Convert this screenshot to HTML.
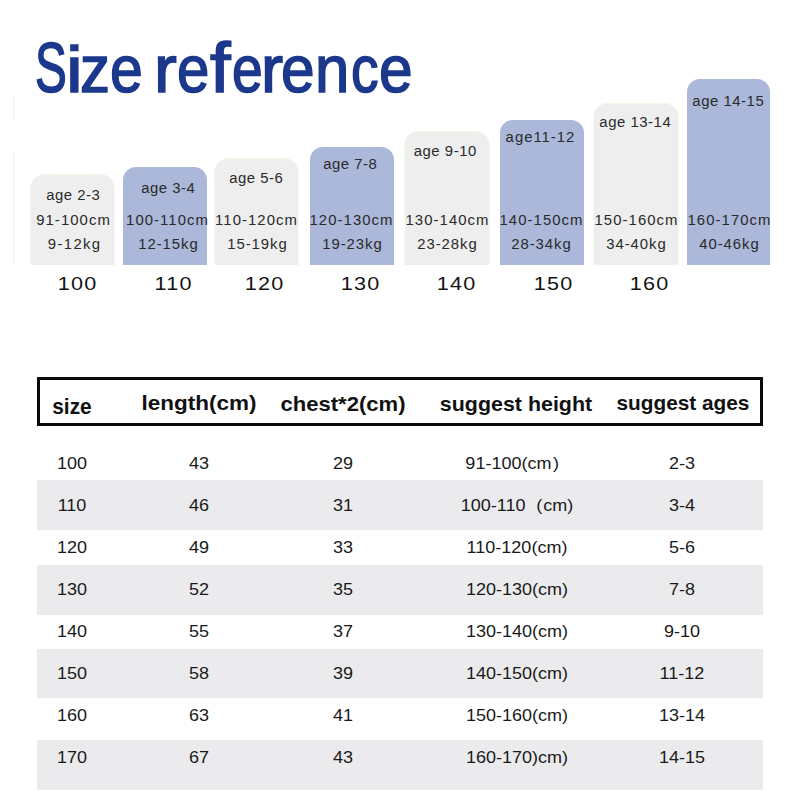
<!DOCTYPE html>
<html><head><meta charset="utf-8"><style>
html,body{margin:0;padding:0;background:#fff;}
body{width:800px;height:800px;position:relative;overflow:hidden;font-family:"Liberation Sans",sans-serif;}
.t{position:absolute;white-space:nowrap;line-height:1;}
.bar{position:absolute;border-radius:13px 13px 0 0;}
</style></head><body>
<div class="t" style="left:34.91px;top:35.00px;font-size:68.5px;color:#1c388c;-webkit-text-stroke:1.6px #1c388c;transform:scale(0.6951,1.0367);transform-origin:0 58px">S</div>
<div class="t" style="left:65.60px;top:35.00px;font-size:68.5px;color:#1c388c;-webkit-text-stroke:1.6px #1c388c;transform:scale(1.1000,0.9567);transform-origin:0 58px">i</div>
<div class="t" style="left:80.00px;top:35.00px;font-size:68.5px;color:#1c388c;-webkit-text-stroke:1.6px #1c388c;transform:scale(0.8750,0.9658);transform-origin:0 58px">z</div>
<div class="t" style="left:110.03px;top:35.00px;font-size:68.5px;color:#1c388c;-webkit-text-stroke:1.6px #1c388c;transform:scale(0.8603,0.9658);transform-origin:0 58px">e</div>
<div class="t" style="left:153.90px;top:35.00px;font-size:68.5px;color:#1c388c;-webkit-text-stroke:1.6px #1c388c;transform:scale(1.0000,0.9658);transform-origin:0 58px">r</div>
<div class="t" style="left:177.20px;top:35.00px;font-size:68.5px;color:#1c388c;-webkit-text-stroke:1.6px #1c388c;transform:scale(0.8485,0.9658);transform-origin:0 58px">e</div>
<div class="t" style="left:210.40px;top:35.00px;font-size:68.5px;color:#1c388c;-webkit-text-stroke:1.6px #1c388c;transform:scale(1.0800,1.0173);transform-origin:0 58px">f</div>
<div class="t" style="left:231.99px;top:35.00px;font-size:68.5px;color:#1c388c;-webkit-text-stroke:1.6px #1c388c;transform:scale(0.8059,0.9658);transform-origin:0 58px">e</div>
<div class="t" style="left:260.73px;top:35.00px;font-size:68.5px;color:#1c388c;-webkit-text-stroke:1.6px #1c388c;transform:scale(0.9667,0.9658);transform-origin:0 58px">r</div>
<div class="t" style="left:281.24px;top:35.00px;font-size:68.5px;color:#1c388c;-webkit-text-stroke:1.6px #1c388c;transform:scale(0.8824,0.9658);transform-origin:0 58px">e</div>
<div class="t" style="left:315.40px;top:35.00px;font-size:68.5px;color:#1c388c;-webkit-text-stroke:1.6px #1c388c;transform:scale(0.9000,0.9658);transform-origin:0 58px">n</div>
<div class="t" style="left:351.39px;top:35.00px;font-size:68.5px;color:#1c388c;-webkit-text-stroke:1.6px #1c388c;transform:scale(0.8065,0.9658);transform-origin:0 58px">c</div>
<div class="t" style="left:379.24px;top:35.00px;font-size:68.5px;color:#1c388c;-webkit-text-stroke:1.6px #1c388c;transform:scale(0.8824,0.9658);transform-origin:0 58px">e</div>
<div style="position:absolute;left:13px;top:96px;width:1px;height:24px;background:#f3f3f3"></div>
<div style="position:absolute;left:13px;top:152px;width:1px;height:114px;background:#f3f3f3"></div>
<div class="bar" style="left:31px;top:175px;width:83px;height:90px;background:#eeeeee;box-shadow:0 -1px 0 0 #f6f6e6,-1px 0 0 0 #f8f8ee,1px 0 0 0 #f8f8ee"></div>
<div class="t" style="left:73.45px;top:189.12px;font-size:13.8px;color:#2a2a2a;font-weight:normal;letter-spacing:0.5px;transform:translateX(-50%) scaleX(1.079);transform-origin:center 0;padding-left:0.5px;">age 2-3</div>
<div class="t" style="left:73.15px;top:214.02px;font-size:13.8px;color:#2a2a2a;font-weight:normal;letter-spacing:0.98px;transform:translateX(-50%) scaleX(1.079);transform-origin:center 0;padding-left:0.98px;">91-100cm</div>
<div class="t" style="left:73.60px;top:238.42px;font-size:13.8px;color:#2a2a2a;font-weight:normal;letter-spacing:1.25px;transform:translateX(-50%) scaleX(1.079);transform-origin:center 0;padding-left:1.25px;">9-12kg</div>
<div class="bar" style="left:123px;top:167px;width:84px;height:98px;background:#abb8da"></div>
<div class="t" style="left:167.80px;top:181.52px;font-size:13.8px;color:#2a2a2a;font-weight:normal;letter-spacing:0.5px;transform:translateX(-50%) scaleX(1.079);transform-origin:center 0;padding-left:0.5px;">age 3-4</div>
<div class="t" style="left:167.35px;top:214.02px;font-size:13.8px;color:#2a2a2a;font-weight:normal;letter-spacing:0.98px;transform:translateX(-50%) scaleX(1.079);transform-origin:center 0;padding-left:0.98px;">100-110cm</div>
<div class="t" style="left:168.05px;top:238.42px;font-size:13.8px;color:#2a2a2a;font-weight:normal;letter-spacing:0.86px;transform:translateX(-50%) scaleX(1.079);transform-origin:center 0;padding-left:0.86px;">12-15kg</div>
<div class="bar" style="left:215px;top:159px;width:83px;height:106px;background:#eeeeee;box-shadow:0 -1px 0 0 #f6f6e6,-1px 0 0 0 #f8f8ee,1px 0 0 0 #f8f8ee"></div>
<div class="t" style="left:256.10px;top:171.92px;font-size:13.8px;color:#2a2a2a;font-weight:normal;letter-spacing:0.5px;transform:translateX(-50%) scaleX(1.079);transform-origin:center 0;padding-left:0.5px;">age 5-6</div>
<div class="t" style="left:255.80px;top:214.02px;font-size:13.8px;color:#2a2a2a;font-weight:normal;letter-spacing:0.98px;transform:translateX(-50%) scaleX(1.079);transform-origin:center 0;padding-left:0.98px;">110-120cm</div>
<div class="t" style="left:256.50px;top:238.42px;font-size:13.8px;color:#2a2a2a;font-weight:normal;letter-spacing:0.86px;transform:translateX(-50%) scaleX(1.079);transform-origin:center 0;padding-left:0.86px;">15-19kg</div>
<div class="bar" style="left:310px;top:147px;width:84px;height:118px;background:#abb8da"></div>
<div class="t" style="left:349.80px;top:158.02px;font-size:13.8px;color:#2a2a2a;font-weight:normal;letter-spacing:0.5px;transform:translateX(-50%) scaleX(1.079);transform-origin:center 0;padding-left:0.5px;">age 7-8</div>
<div class="t" style="left:351.45px;top:214.02px;font-size:13.8px;color:#2a2a2a;font-weight:normal;letter-spacing:0.98px;transform:translateX(-50%) scaleX(1.079);transform-origin:center 0;padding-left:0.98px;">120-130cm</div>
<div class="t" style="left:352.05px;top:238.42px;font-size:13.8px;color:#2a2a2a;font-weight:normal;letter-spacing:0.86px;transform:translateX(-50%) scaleX(1.079);transform-origin:center 0;padding-left:0.86px;">19-23kg</div>
<div class="bar" style="left:405px;top:132px;width:84px;height:133px;background:#eeeeee;box-shadow:0 -1px 0 0 #f6f6e6,-1px 0 0 0 #f8f8ee,1px 0 0 0 #f8f8ee"></div>
<div class="t" style="left:444.75px;top:145.12px;font-size:13.8px;color:#2a2a2a;font-weight:normal;letter-spacing:0.5px;transform:translateX(-50%) scaleX(1.079);transform-origin:center 0;padding-left:0.5px;">age 9-10</div>
<div class="t" style="left:447.00px;top:214.02px;font-size:13.8px;color:#2a2a2a;font-weight:normal;letter-spacing:0.98px;transform:translateX(-50%) scaleX(1.079);transform-origin:center 0;padding-left:0.98px;">130-140cm</div>
<div class="t" style="left:447.45px;top:238.42px;font-size:13.8px;color:#2a2a2a;font-weight:normal;letter-spacing:0.86px;transform:translateX(-50%) scaleX(1.079);transform-origin:center 0;padding-left:0.86px;">23-28kg</div>
<div class="bar" style="left:500px;top:120px;width:84px;height:145px;background:#abb8da"></div>
<div class="t" style="left:540.15px;top:131.22px;font-size:13.8px;color:#2a2a2a;font-weight:normal;letter-spacing:0.92px;transform:translateX(-50%) scaleX(1.079);transform-origin:center 0;padding-left:0.92px;">age11-12</div>
<div class="t" style="left:540.50px;top:214.02px;font-size:13.8px;color:#2a2a2a;font-weight:normal;letter-spacing:0.98px;transform:translateX(-50%) scaleX(1.079);transform-origin:center 0;padding-left:0.98px;">140-150cm</div>
<div class="t" style="left:540.50px;top:238.42px;font-size:13.8px;color:#2a2a2a;font-weight:normal;letter-spacing:0.86px;transform:translateX(-50%) scaleX(1.079);transform-origin:center 0;padding-left:0.86px;">28-34kg</div>
<div class="bar" style="left:594px;top:104px;width:84px;height:161px;background:#eeeeee;box-shadow:0 -1px 0 0 #f6f6e6,-1px 0 0 0 #f8f8ee,1px 0 0 0 #f8f8ee"></div>
<div class="t" style="left:634.70px;top:115.52px;font-size:13.8px;color:#2a2a2a;font-weight:normal;letter-spacing:0.5px;transform:translateX(-50%) scaleX(1.079);transform-origin:center 0;padding-left:0.5px;">age 13-14</div>
<div class="t" style="left:635.80px;top:214.02px;font-size:13.8px;color:#2a2a2a;font-weight:normal;letter-spacing:0.98px;transform:translateX(-50%) scaleX(1.079);transform-origin:center 0;padding-left:0.98px;">150-160cm</div>
<div class="t" style="left:636.05px;top:238.42px;font-size:13.8px;color:#2a2a2a;font-weight:normal;letter-spacing:0.86px;transform:translateX(-50%) scaleX(1.079);transform-origin:center 0;padding-left:0.86px;">34-40kg</div>
<div class="bar" style="left:687px;top:79px;width:83px;height:186px;background:#abb8da"></div>
<div class="t" style="left:727.80px;top:95.47px;font-size:13.8px;color:#2a2a2a;font-weight:normal;letter-spacing:0.5px;transform:translateX(-50%) scaleX(1.079);transform-origin:center 0;padding-left:0.5px;">age 14-15</div>
<div class="t" style="left:728.75px;top:214.02px;font-size:13.8px;color:#2a2a2a;font-weight:normal;letter-spacing:0.98px;transform:translateX(-50%) scaleX(1.079);transform-origin:center 0;padding-left:0.98px;">160-170cm</div>
<div class="t" style="left:728.90px;top:238.42px;font-size:13.8px;color:#2a2a2a;font-weight:normal;letter-spacing:0.86px;transform:translateX(-50%) scaleX(1.079);transform-origin:center 0;padding-left:0.86px;">40-46kg</div>
<div class="t" style="left:76.50px;top:274.76px;font-size:18px;color:#141414;font-weight:normal;letter-spacing:1.1px;transform:translateX(-50%) scaleX(1.2);transform-origin:center 0;padding-left:1.1px;">100</div>
<div class="t" style="left:172.50px;top:274.76px;font-size:18px;color:#141414;font-weight:normal;letter-spacing:1.1px;transform:translateX(-50%) scaleX(1.2);transform-origin:center 0;padding-left:1.1px;">110</div>
<div class="t" style="left:264.00px;top:274.76px;font-size:18px;color:#141414;font-weight:normal;letter-spacing:1.1px;transform:translateX(-50%) scaleX(1.2);transform-origin:center 0;padding-left:1.1px;">120</div>
<div class="t" style="left:360.00px;top:274.76px;font-size:18px;color:#141414;font-weight:normal;letter-spacing:1.1px;transform:translateX(-50%) scaleX(1.2);transform-origin:center 0;padding-left:1.1px;">130</div>
<div class="t" style="left:456.25px;top:274.76px;font-size:18px;color:#141414;font-weight:normal;letter-spacing:1.1px;transform:translateX(-50%) scaleX(1.2);transform-origin:center 0;padding-left:1.1px;">140</div>
<div class="t" style="left:552.60px;top:274.76px;font-size:18px;color:#141414;font-weight:normal;letter-spacing:1.1px;transform:translateX(-50%) scaleX(1.2);transform-origin:center 0;padding-left:1.1px;">150</div>
<div class="t" style="left:648.75px;top:274.76px;font-size:18px;color:#141414;font-weight:normal;letter-spacing:1.1px;transform:translateX(-50%) scaleX(1.2);transform-origin:center 0;padding-left:1.1px;">160</div>
<div style="position:absolute;left:37px;top:377px;width:720px;height:43px;border:3px solid #0a0a0a"></div>
<div class="t" style="left:71.60px;top:395.58px;font-size:22px;color:#111;font-weight:bold;letter-spacing:0px;transform:translateX(-50%) scaleX(0.95);transform-origin:center 0;padding-left:0px;">size</div>
<div class="t" style="left:198.70px;top:392.22px;font-size:21px;color:#111;font-weight:bold;letter-spacing:0px;transform:translateX(-50%) scaleX(1.07);transform-origin:center 0;padding-left:0px;">length(cm)</div>
<div class="t" style="left:342.60px;top:393.22px;font-size:21px;color:#111;font-weight:bold;letter-spacing:0px;transform:translateX(-50%) scaleX(1.05);transform-origin:center 0;padding-left:0px;">chest*2(cm)</div>
<div class="t" style="left:516.00px;top:392.72px;font-size:21px;color:#111;font-weight:bold;letter-spacing:0px;transform:translateX(-50%) scaleX(1.02);transform-origin:center 0;padding-left:0px;">suggest height</div>
<div class="t" style="left:682.50px;top:392.22px;font-size:21px;color:#111;font-weight:bold;letter-spacing:0px;transform:translateX(-50%) scaleX(0.99);transform-origin:center 0;padding-left:0px;">suggest ages</div>
<div style="position:absolute;left:37px;top:480px;width:726px;height:49.5px;background:#ebebed"></div>
<div style="position:absolute;left:37px;top:564.5px;width:726px;height:50.0px;background:#ebebed"></div>
<div style="position:absolute;left:37px;top:648.5px;width:726px;height:49.799999999999955px;background:#ebebed"></div>
<div style="position:absolute;left:37px;top:740px;width:726px;height:50px;background:#ebebed"></div>
<div class="t" style="left:71.75px;top:455.11px;font-size:17px;color:#1a1a1a;font-weight:normal;letter-spacing:0px;transform:translateX(-50%) scaleX(1.06);transform-origin:center 0;padding-left:0px;">100</div>
<div class="t" style="left:198.75px;top:455.11px;font-size:17px;color:#1a1a1a;font-weight:normal;letter-spacing:0px;transform:translateX(-50%) scaleX(1.06);transform-origin:center 0;padding-left:0px;">43</div>
<div class="t" style="left:342.75px;top:455.11px;font-size:17px;color:#1a1a1a;font-weight:normal;letter-spacing:0px;transform:translateX(-50%) scaleX(1.06);transform-origin:center 0;padding-left:0px;">29</div>
<div class="t" style="left:517.00px;top:455.11px;font-size:17px;color:#1a1a1a;font-weight:normal;letter-spacing:0px;transform:translateX(-50%) scaleX(1.06);transform-origin:center 0;padding-left:0px;">91-100(cm<span style="margin-left:1.5px;margin-right:9px">)</span></div>
<div class="t" style="left:681.60px;top:455.11px;font-size:17px;color:#1a1a1a;font-weight:normal;letter-spacing:0px;transform:translateX(-50%) scaleX(1.06);transform-origin:center 0;padding-left:0px;">2-3</div>
<div class="t" style="left:71.75px;top:497.11px;font-size:17px;color:#1a1a1a;font-weight:normal;letter-spacing:0px;transform:translateX(-50%) scaleX(1.06);transform-origin:center 0;padding-left:0px;">110</div>
<div class="t" style="left:198.75px;top:497.11px;font-size:17px;color:#1a1a1a;font-weight:normal;letter-spacing:0px;transform:translateX(-50%) scaleX(1.06);transform-origin:center 0;padding-left:0px;">46</div>
<div class="t" style="left:342.75px;top:497.11px;font-size:17px;color:#1a1a1a;font-weight:normal;letter-spacing:0px;transform:translateX(-50%) scaleX(1.06);transform-origin:center 0;padding-left:0px;">31</div>
<div class="t" style="left:517.00px;top:497.11px;font-size:17px;color:#1a1a1a;font-weight:normal;letter-spacing:0px;transform:translateX(-50%) scaleX(1.06);transform-origin:center 0;padding-left:0px;">100-110<span style="margin-left:10px;margin-right:1px">(</span>cm)</div>
<div class="t" style="left:681.60px;top:497.11px;font-size:17px;color:#1a1a1a;font-weight:normal;letter-spacing:0px;transform:translateX(-50%) scaleX(1.06);transform-origin:center 0;padding-left:0px;">3-4</div>
<div class="t" style="left:71.75px;top:539.11px;font-size:17px;color:#1a1a1a;font-weight:normal;letter-spacing:0px;transform:translateX(-50%) scaleX(1.06);transform-origin:center 0;padding-left:0px;">120</div>
<div class="t" style="left:198.75px;top:539.11px;font-size:17px;color:#1a1a1a;font-weight:normal;letter-spacing:0px;transform:translateX(-50%) scaleX(1.06);transform-origin:center 0;padding-left:0px;">49</div>
<div class="t" style="left:342.75px;top:539.11px;font-size:17px;color:#1a1a1a;font-weight:normal;letter-spacing:0px;transform:translateX(-50%) scaleX(1.06);transform-origin:center 0;padding-left:0px;">33</div>
<div class="t" style="left:517.00px;top:539.11px;font-size:17px;color:#1a1a1a;font-weight:normal;letter-spacing:0px;transform:translateX(-50%) scaleX(1.06);transform-origin:center 0;padding-left:0px;">110-120(cm)</div>
<div class="t" style="left:681.60px;top:539.11px;font-size:17px;color:#1a1a1a;font-weight:normal;letter-spacing:0px;transform:translateX(-50%) scaleX(1.06);transform-origin:center 0;padding-left:0px;">5-6</div>
<div class="t" style="left:71.75px;top:581.11px;font-size:17px;color:#1a1a1a;font-weight:normal;letter-spacing:0px;transform:translateX(-50%) scaleX(1.06);transform-origin:center 0;padding-left:0px;">130</div>
<div class="t" style="left:198.75px;top:581.11px;font-size:17px;color:#1a1a1a;font-weight:normal;letter-spacing:0px;transform:translateX(-50%) scaleX(1.06);transform-origin:center 0;padding-left:0px;">52</div>
<div class="t" style="left:342.75px;top:581.11px;font-size:17px;color:#1a1a1a;font-weight:normal;letter-spacing:0px;transform:translateX(-50%) scaleX(1.06);transform-origin:center 0;padding-left:0px;">35</div>
<div class="t" style="left:517.00px;top:581.11px;font-size:17px;color:#1a1a1a;font-weight:normal;letter-spacing:0px;transform:translateX(-50%) scaleX(1.06);transform-origin:center 0;padding-left:0px;">120-130(cm)</div>
<div class="t" style="left:681.60px;top:581.11px;font-size:17px;color:#1a1a1a;font-weight:normal;letter-spacing:0px;transform:translateX(-50%) scaleX(1.06);transform-origin:center 0;padding-left:0px;">7-8</div>
<div class="t" style="left:71.75px;top:623.11px;font-size:17px;color:#1a1a1a;font-weight:normal;letter-spacing:0px;transform:translateX(-50%) scaleX(1.06);transform-origin:center 0;padding-left:0px;">140</div>
<div class="t" style="left:198.75px;top:623.11px;font-size:17px;color:#1a1a1a;font-weight:normal;letter-spacing:0px;transform:translateX(-50%) scaleX(1.06);transform-origin:center 0;padding-left:0px;">55</div>
<div class="t" style="left:342.75px;top:623.11px;font-size:17px;color:#1a1a1a;font-weight:normal;letter-spacing:0px;transform:translateX(-50%) scaleX(1.06);transform-origin:center 0;padding-left:0px;">37</div>
<div class="t" style="left:517.00px;top:623.11px;font-size:17px;color:#1a1a1a;font-weight:normal;letter-spacing:0px;transform:translateX(-50%) scaleX(1.06);transform-origin:center 0;padding-left:0px;">130-140(cm)</div>
<div class="t" style="left:681.60px;top:623.11px;font-size:17px;color:#1a1a1a;font-weight:normal;letter-spacing:0px;transform:translateX(-50%) scaleX(1.06);transform-origin:center 0;padding-left:0px;">9-10</div>
<div class="t" style="left:71.75px;top:665.11px;font-size:17px;color:#1a1a1a;font-weight:normal;letter-spacing:0px;transform:translateX(-50%) scaleX(1.06);transform-origin:center 0;padding-left:0px;">150</div>
<div class="t" style="left:198.75px;top:665.11px;font-size:17px;color:#1a1a1a;font-weight:normal;letter-spacing:0px;transform:translateX(-50%) scaleX(1.06);transform-origin:center 0;padding-left:0px;">58</div>
<div class="t" style="left:342.75px;top:665.11px;font-size:17px;color:#1a1a1a;font-weight:normal;letter-spacing:0px;transform:translateX(-50%) scaleX(1.06);transform-origin:center 0;padding-left:0px;">39</div>
<div class="t" style="left:517.00px;top:665.11px;font-size:17px;color:#1a1a1a;font-weight:normal;letter-spacing:0px;transform:translateX(-50%) scaleX(1.06);transform-origin:center 0;padding-left:0px;">140-150(cm)</div>
<div class="t" style="left:681.60px;top:665.11px;font-size:17px;color:#1a1a1a;font-weight:normal;letter-spacing:0px;transform:translateX(-50%) scaleX(1.06);transform-origin:center 0;padding-left:0px;">11-12</div>
<div class="t" style="left:71.75px;top:707.11px;font-size:17px;color:#1a1a1a;font-weight:normal;letter-spacing:0px;transform:translateX(-50%) scaleX(1.06);transform-origin:center 0;padding-left:0px;">160</div>
<div class="t" style="left:198.75px;top:707.11px;font-size:17px;color:#1a1a1a;font-weight:normal;letter-spacing:0px;transform:translateX(-50%) scaleX(1.06);transform-origin:center 0;padding-left:0px;">63</div>
<div class="t" style="left:342.75px;top:707.11px;font-size:17px;color:#1a1a1a;font-weight:normal;letter-spacing:0px;transform:translateX(-50%) scaleX(1.06);transform-origin:center 0;padding-left:0px;">41</div>
<div class="t" style="left:517.00px;top:707.11px;font-size:17px;color:#1a1a1a;font-weight:normal;letter-spacing:0px;transform:translateX(-50%) scaleX(1.06);transform-origin:center 0;padding-left:0px;">150-160(cm)</div>
<div class="t" style="left:681.60px;top:707.11px;font-size:17px;color:#1a1a1a;font-weight:normal;letter-spacing:0px;transform:translateX(-50%) scaleX(1.06);transform-origin:center 0;padding-left:0px;">13-14</div>
<div class="t" style="left:71.75px;top:749.11px;font-size:17px;color:#1a1a1a;font-weight:normal;letter-spacing:0px;transform:translateX(-50%) scaleX(1.06);transform-origin:center 0;padding-left:0px;">170</div>
<div class="t" style="left:198.75px;top:749.11px;font-size:17px;color:#1a1a1a;font-weight:normal;letter-spacing:0px;transform:translateX(-50%) scaleX(1.06);transform-origin:center 0;padding-left:0px;">67</div>
<div class="t" style="left:342.75px;top:749.11px;font-size:17px;color:#1a1a1a;font-weight:normal;letter-spacing:0px;transform:translateX(-50%) scaleX(1.06);transform-origin:center 0;padding-left:0px;">43</div>
<div class="t" style="left:517.00px;top:749.11px;font-size:17px;color:#1a1a1a;font-weight:normal;letter-spacing:0px;transform:translateX(-50%) scaleX(1.06);transform-origin:center 0;padding-left:0px;">160-170)cm)</div>
<div class="t" style="left:681.60px;top:749.11px;font-size:17px;color:#1a1a1a;font-weight:normal;letter-spacing:0px;transform:translateX(-50%) scaleX(1.06);transform-origin:center 0;padding-left:0px;">14-15</div>
</body></html>
